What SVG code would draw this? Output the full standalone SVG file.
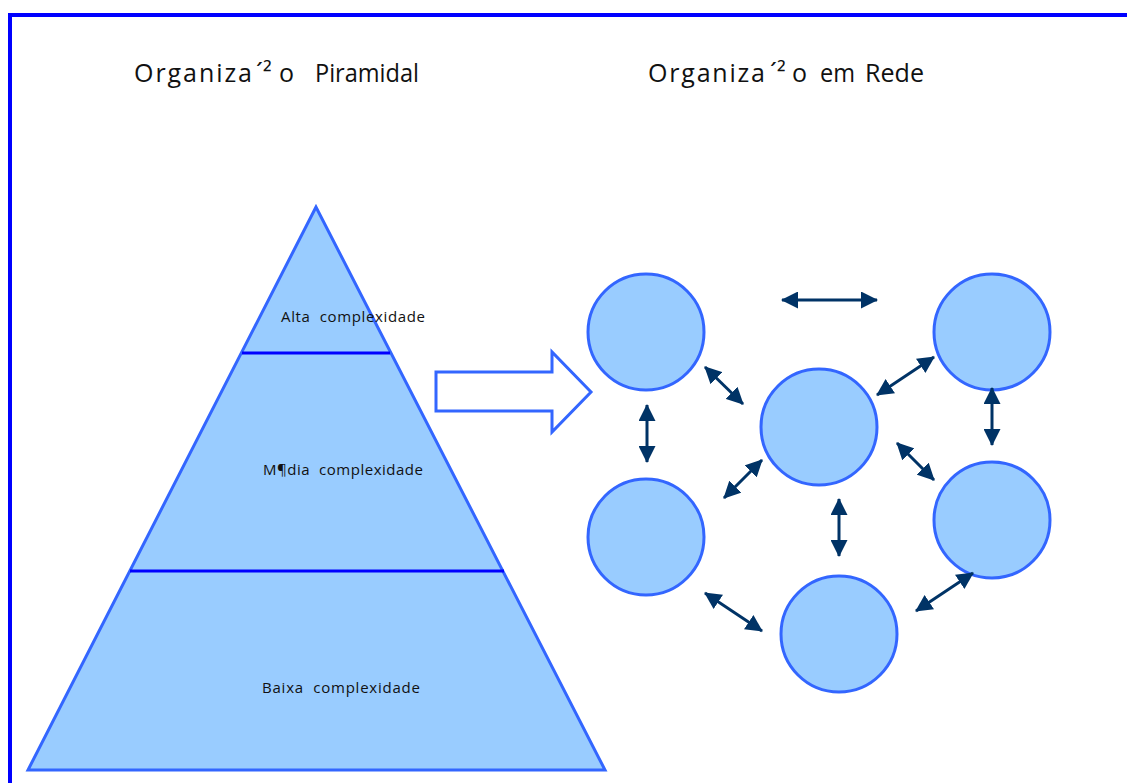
<svg xmlns="http://www.w3.org/2000/svg" width="1127" height="783" viewBox="0 0 1127 783">
<style>
.title{font-family:"Open Sans","Noto Sans","DejaVu Sans",sans-serif;font-size:25px;fill:#111;}
.lbl{font-family:"Open Sans","Noto Sans","DejaVu Sans",sans-serif;font-size:15px;fill:#111;}
.node{fill:#99ccff;stroke:#3366ff;stroke-width:3;}
.conn{stroke:#003366;stroke-width:3;fill:none;marker-start:url(#ah);marker-end:url(#ah);}
.div{stroke:#0000ff;stroke-width:3;}
</style>
<defs>
<marker id="ah" viewBox="0 0 17 17" refX="16" refY="8.5" markerWidth="17" markerHeight="17" markerUnits="userSpaceOnUse" orient="auto-start-reverse">
<path d="M0,0 L17,8.5 L0,17 Z" fill="#003366"/>
</marker>
</defs>
<rect width="1127" height="783" fill="#fff"/>
<path d="M10,783 L10,15 L1127,15" fill="none" stroke="#0000ff" stroke-width="4"/>
<text class="title" y="82"><tspan x="134" textLength="118" lengthAdjust="spacing">Organiza</tspan><tspan x="256">´²</tspan><tspan x="279">o</tspan><tspan x="315" textLength="104" lengthAdjust="spacingAndGlyphs">Piramidal</tspan></text>
<text class="title" y="82"><tspan x="648" textLength="117" lengthAdjust="spacing">Organiza</tspan><tspan x="770">´²</tspan><tspan x="792">o</tspan><tspan x="820" textLength="35" lengthAdjust="spacingAndGlyphs">em</tspan><tspan x="865" textLength="59" lengthAdjust="spacingAndGlyphs">Rede</tspan></text>
<g id="pyramid">
<polygon points="316,207 28,770 605,770" fill="#99ccff" stroke="#3366ff" stroke-width="3"/>
<line class="div" x1="242" y1="353" x2="390" y2="353"/>
<line class="div" x1="130" y1="571" x2="504" y2="571"/>
<text class="lbl" x="281" y="322" textLength="144" lengthAdjust="spacing">Alta&#160; complexidade</text>
<text class="lbl" x="263" y="475" textLength="160" lengthAdjust="spacing">M¶dia&#160; complexidade</text>
<text class="lbl" x="262" y="693" textLength="158" lengthAdjust="spacing">Baixa&#160; complexidade</text>
</g>
<g id="block-arrow">
<polygon points="436,372 552,372 552,352 591,392 552,432 552,411 436,411" fill="#fff" stroke="#3366ff" stroke-width="3"/>
</g>
<g id="n1"><circle class="node" cx="646" cy="332" r="58"/></g>
<g id="n2"><circle class="node" cx="992" cy="332" r="58"/></g>
<g id="n3"><circle class="node" cx="819" cy="427" r="58"/></g>
<g id="n4"><circle class="node" cx="646" cy="537" r="58"/></g>
<g id="n5"><circle class="node" cx="992" cy="520" r="58"/></g>
<g id="n6"><circle class="node" cx="839" cy="634" r="58"/></g>
<g id="connectors">
<line class="conn" x1="782" y1="300" x2="877" y2="300"/>
<line class="conn" x1="705" y1="367" x2="743" y2="404"/>
<line class="conn" x1="647" y1="405" x2="647" y2="462"/>
<line class="conn" x1="877" y1="395" x2="934" y2="357"/>
<line class="conn" x1="992" y1="388" x2="992" y2="445"/>
<line class="conn" x1="897" y1="443" x2="934" y2="480"/>
<line class="conn" x1="724" y1="498" x2="762" y2="460"/>
<line class="conn" x1="839" y1="499" x2="839" y2="556"/>
<line class="conn" x1="705" y1="593" x2="762" y2="631"/>
<line class="conn" x1="916" y1="611" x2="973" y2="573"/>
</g>
</svg>
